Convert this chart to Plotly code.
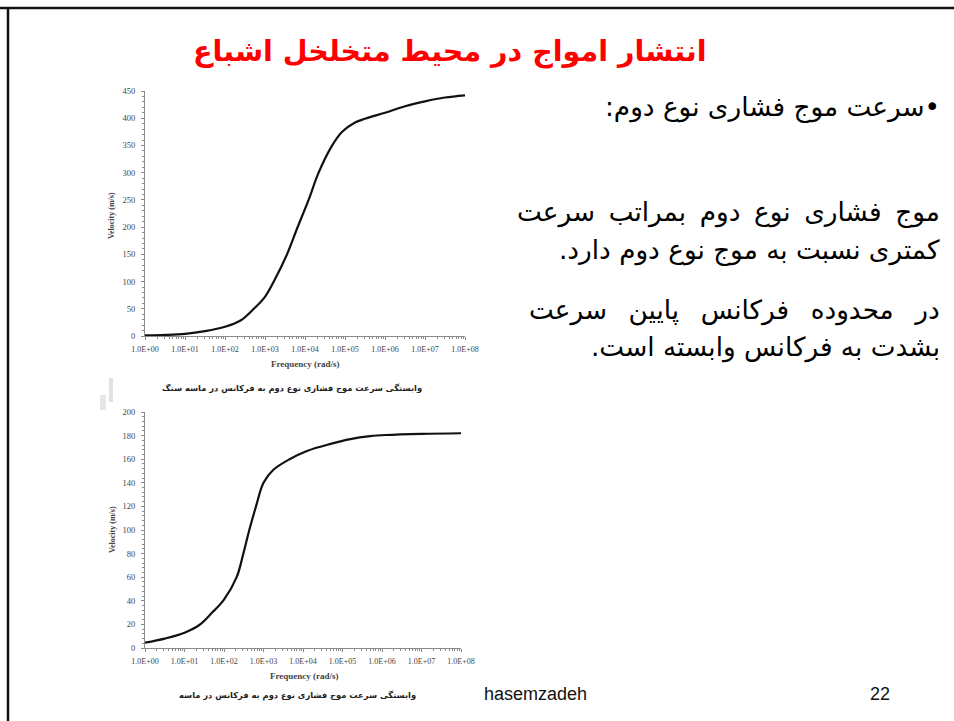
import plotly.graph_objects as go

W, H = 954, 721

# P2 (second-kind compressional) wave velocity vs. frequency — sandstone
freq_sandstone = [1, 3.16, 10, 31.6, 100, 251, 525, 1000, 1660, 3550, 6310, 12300,
                  21900, 47900, 85100, 178000, 316000, 1.0e6, 3.16e6, 1.0e7, 3.16e7, 1.0e8]
vel_sandstone = [1, 2, 4, 9, 17, 29, 50, 72, 100, 150, 197, 250,
                 300, 350, 375, 392, 399, 410, 422, 431, 438, 442]

# P2 wave velocity vs. frequency — sand
freq_sand = [1, 3.16, 10, 23.7, 50.1, 100, 209, 309, 437, 646, 1000, 1780,
             4570, 12600, 50100, 158000, 501000, 1.26e6, 1.0e7, 1.0e8]
vel_sand = [4.5, 8, 13, 19.5, 30, 41, 60, 80, 100, 120, 140, 151,
            160, 167, 173, 177, 179.5, 180.5, 181.5, 182]

x_tick_values = [1, 10, 100, 1e3, 1e4, 1e5, 1e6, 1e7, 1e8]
x_tick_labels = ["1.0E+00", "1.0E+01", "1.0E+02", "1.0E+03", "1.0E+04",
                 "1.0E+05", "1.0E+06", "1.0E+07", "1.0E+08"]

title_text = "انتشار امواج در محیط متخلخل اشباع"
bullet_text = "•سرعت موج فشاری نوع دوم:"
body_lines = [
    "موج فشاری نوع دوم بمراتب سرعت",
    "کمتری نسبت به موج نوع دوم دارد.",
    "در محدوده فرکانس پایین سرعت",
    "بشدت به فرکانس وابسته است.",
]
caption_top = "وابستگی سرعت موج فشاری نوع دوم به فرکانس در ماسه سنگ"
caption_bottom = "وابستگی سرعت موج فشاری نوع دوم به فرکانس در ماسه"
footer_name = "hasemzadeh"
page_number = "22"

RLM = "\u200F"


def rtl(s):
    return RLM + s + RLM


def widen(s, gap):
    # justified line: stretch the inter-word gaps
    return s.replace(" ", " " + gap)


def px(x):
    return x / W


def py(y):
    return 1 - y / H


AR_FONT = "DejaVu Sans"
SERIF = "Liberation Serif"
AXIS_GREY = "#8a8a8a"
LABEL_GREY = "#444444"

fig = go.Figure()

fig.add_trace(go.Scatter(x=freq_sandstone, y=vel_sandstone, mode="lines",
                         line=dict(color="#111111", width=2.2, shape="spline"),
                         xaxis="x", yaxis="y", showlegend=False))
fig.add_trace(go.Scatter(x=freq_sand, y=vel_sand, mode="lines",
                         line=dict(color="#111111", width=2.2, shape="spline"),
                         xaxis="x2", yaxis="y2", showlegend=False))

minor_log = [m * 10 ** k for k in range(8) for m in range(2, 10)]


def x_axis(domain, anchor):
    return dict(domain=domain, anchor=anchor, type="log", range=[0, 8],
                tickvals=x_tick_values, ticktext=x_tick_labels,
                tickfont=dict(family=SERIF, size=8, color=LABEL_GREY),
                showline=True, linecolor=AXIS_GREY, linewidth=1,
                ticks="outside", ticklen=3, tickcolor=AXIS_GREY,
                minor=dict(tickvals=minor_log, ticks="outside", ticklen=2,
                           tickcolor=AXIS_GREY),
                ticklabelstandoff=2, automargin=False,
                showgrid=False, zeroline=False, fixedrange=True)


def y_axis(domain, anchor, top, major, minor):
    return dict(domain=domain, anchor=anchor, range=[0, top], dtick=major,
                tickfont=dict(family=SERIF, size=8.5, color=LABEL_GREY),
                showline=True, linecolor=AXIS_GREY, linewidth=1,
                ticks="outside", ticklen=3, tickcolor=AXIS_GREY,
                minor=dict(dtick=minor, ticks="outside", ticklen=2,
                           tickcolor=AXIS_GREY),
                ticklabelstandoff=4, automargin=False,
                showgrid=False, zeroline=False, fixedrange=True)


annotations = []


def note(text, x, y, size, color="#000000", family=AR_FONT, xanchor="center",
         yanchor="middle", angle=0, bold=False):
    annotations.append(dict(text=text, x=px(x), y=py(y), xref="paper", yref="paper",
                            xanchor=xanchor, yanchor=yanchor, showarrow=False,
                            textangle=angle,
                            font=dict(family=family, size=size, color=color,
                                      weight="bold" if bold else "normal")))


# slide title and body text
note(rtl(title_text), 450, 52, 28.6, color="#ff0000", bold=True)
note(rtl(bullet_text), 942, 108, 26.3, xanchor="right")
note(rtl(widen(body_lines[0], "\u2009")), 942, 213, 26.3, xanchor="right")
note(rtl(body_lines[1]), 942, 250, 26.3, xanchor="right")
note(rtl(widen(body_lines[2], "\u2002")), 942, 310, 26.3, xanchor="right")
note(rtl(body_lines[3]), 942, 347, 26.3, xanchor="right")

# chart labels
note("Velocity (m/s)", 112, 216, 8, color=LABEL_GREY, family=SERIF, angle=-90, bold=True)
note("Frequency (rad/s)", 305, 364, 9, color=LABEL_GREY, family=SERIF, bold=True)
note(rtl(caption_top), 292, 388, 8.3, color="#222222", bold=True)

note("Velocity (m/s)", 112, 530, 8, color=LABEL_GREY, family=SERIF, angle=-90, bold=True)
note("Frequency (rad/s)", 304, 676, 9, color=LABEL_GREY, family=SERIF, bold=True)
note(rtl(caption_bottom), 297, 695, 8.3, color="#222222", bold=True)

# footer
note(footer_name, 482, 694, 18, color="#111111", family="Liberation Sans", xanchor="left")
note(page_number, 880, 694, 18, color="#111111", family="Liberation Sans")

shapes = [
    dict(type="line", xref="paper", yref="paper", x0=0, x1=1, y0=py(8), y1=py(8),
         line=dict(color="#111111", width=2.5)),
    dict(type="line", xref="paper", yref="paper", x0=px(8), x1=px(8), y0=0, y1=py(8),
         line=dict(color="#111111", width=2.5)),
    dict(type="rect", xref="paper", yref="paper", x0=px(109), x1=px(113),
         y0=py(402), y1=py(378), line=dict(width=0), fillcolor="#e2e2e2"),
    dict(type="rect", xref="paper", yref="paper", x0=px(100), x1=px(106),
         y0=py(410), y1=py(395), line=dict(width=0), fillcolor="#e6e6e6"),
]

fig.update_layout(
    width=W, height=H,
    margin=dict(l=0, r=0, t=0, b=0, pad=0, autoexpand=False),
    paper_bgcolor="white", plot_bgcolor="white",
    xaxis=x_axis([px(145), px(465)], "y"),
    yaxis=y_axis([py(336), py(91)], "x", 450, 50, 10),
    xaxis2=x_axis([px(145), px(461)], "y2"),
    yaxis2=y_axis([py(648), py(412)], "x2", 200, 20, 4),
    annotations=annotations, shapes=shapes,
)

fig.write_html(
    "out.html",
    post_script=("document.documentElement.style.margin='0';"
                 "document.body.style.margin='0';"
                 "document.body.style.overflow='hidden';"),
)
